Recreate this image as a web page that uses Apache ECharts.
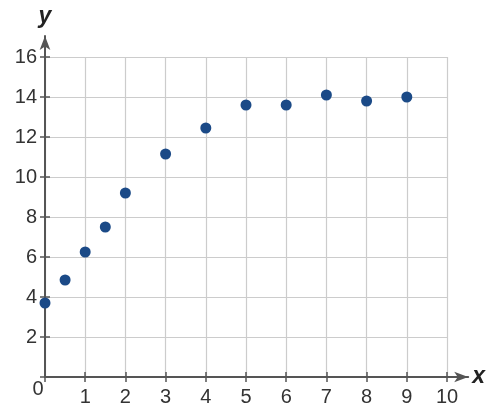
<!DOCTYPE html>
<html>
<head>
<meta charset="utf-8">
<script src="https://cdn.jsdelivr.net/npm/echarts@6/dist/echarts.min.js"></script>
<style>html,body{margin:0;padding:0;background:#fff}#c{width:488px;height:411px}</style>
</head>
<body>
<div id="c"></div>
<script>
var xValues = [0, 0.5, 1, 1.5, 2, 3, 4, 5, 6, 7, 8, 9];
var yValues = [3.7, 4.85, 6.25, 7.5, 9.2, 11.15, 12.45, 13.6, 13.6, 14.1, 13.8, 14.0];
var xTicks = [0, 1, 2, 3, 4, 5, 6, 7, 8, 9, 10];
var yTicks = [0, 2, 4, 6, 8, 10, 12, 14, 16];

var FONT = 'Liberation Sans, Arial, sans-serif';
var axisColor = '#555';
var gridColor = '#cccccc';
var labelColor = '#333';
var FS = 20;

var points = xValues.map(function (x, i) { return [x, yValues[i]]; });

var chart = echarts.init(document.getElementById('c'), null, {renderer: 'canvas'});
chart.setOption({
  animation: false,
  backgroundColor: '#fff',
  grid: [
    {left: 45, right: 41, top: 57, bottom: 34},
    {left: 45, right: 16, top: 36, bottom: 34}
  ],
  xAxis: [
    {
      type: 'value', gridIndex: 0, min: xTicks[0], max: xTicks[xTicks.length - 1], interval: 1,
      axisLine: {show: false},
      axisTick: {show: true, inside: false, length: 5, lineStyle: {color: axisColor, width: 1.5}},
      splitLine: {show: true, lineStyle: {color: gridColor, width: 1.2}},
      axisLabel: {
        show: true, margin: 2, color: labelColor, fontFamily: FONT, fontSize: FS,
        formatter: function (v) { return v === 0 ? '{z|0}' : '{a|' + v + '}'; },
        rich: {
          a: {fontFamily: FONT, fontSize: FS, color: labelColor, padding: [8, 0, 0, 0]},
          z: {fontFamily: FONT, fontSize: FS, color: labelColor, padding: [0, 14, 0, 0]}
        }
      }
    },
    {
      type: 'value', gridIndex: 0, min: xTicks[0], max: xTicks[xTicks.length - 1], interval: 1,
      position: 'bottom',
      axisLine: {show: false},
      axisTick: {show: true, inside: true, length: 5, lineStyle: {color: axisColor, width: 1.5}},
      splitLine: {show: false}, axisLabel: {show: false}
    },
    {
      type: 'value', gridIndex: 1, min: 0, max: 1,
      axisLine: {show: true, symbol: ['none', 'arrow'], symbolSize: [8, 14], lineStyle: {color: axisColor, width: 2}},
      axisTick: {show: false}, splitLine: {show: false}, axisLabel: {show: false},
      name: 'x', nameLocation: 'end', nameGap: 4,
      nameTextStyle: {fontFamily: FONT, fontSize: 23, fontWeight: 'bold', fontStyle: 'italic', color: '#222', verticalAlign: 'middle'}
    }
  ],
  yAxis: [
    {
      type: 'value', gridIndex: 0, min: yTicks[0], max: yTicks[yTicks.length - 1], interval: 2,
      axisLine: {show: false},
      axisTick: {show: true, inside: false, length: 5, lineStyle: {color: axisColor, width: 1.5}},
      splitLine: {show: true, lineStyle: {color: gridColor, width: 1.2}},
      axisLabel: {
        show: true, margin: 8, color: labelColor, fontFamily: FONT, fontSize: FS,
        formatter: function (v) { return v === 0 ? '' : String(v); }
      }
    },
    {
      type: 'value', gridIndex: 0, min: yTicks[0], max: yTicks[yTicks.length - 1], interval: 2,
      position: 'left',
      axisLine: {show: false},
      axisTick: {show: true, inside: true, length: 5, lineStyle: {color: axisColor, width: 1.5}},
      splitLine: {show: false}, axisLabel: {show: false}
    },
    {
      type: 'value', gridIndex: 1, min: 0, max: 1,
      axisLine: {show: true, symbol: ['none', 'arrow'], symbolSize: [8, 14], lineStyle: {color: axisColor, width: 2}},
      axisTick: {show: false}, splitLine: {show: false}, axisLabel: {show: false},
      name: 'y', nameLocation: 'end', nameGap: 8,
      nameTextStyle: {fontFamily: FONT, fontSize: 23, fontWeight: 'bold', fontStyle: 'italic', color: '#222', align: 'center'}
    }
  ],
  series: [{
    type: 'scatter',
    xAxisIndex: 0, yAxisIndex: 0,
    data: points,
    symbol: 'circle',
    symbolSize: 11,
    itemStyle: {color: '#1b4a87', opacity: 1},
    z: 10
  }]
});
</script>
</body>
</html>
